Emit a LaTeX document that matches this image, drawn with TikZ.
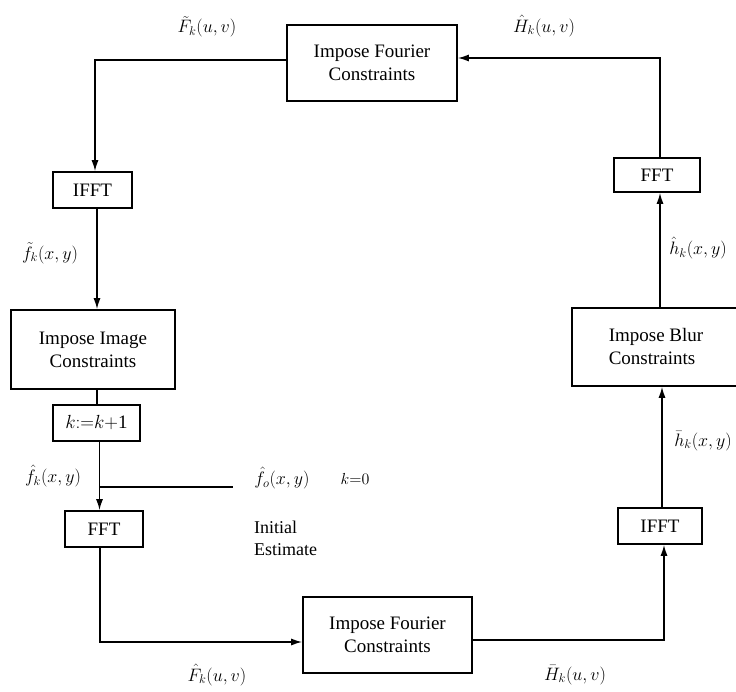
\RequirePackage{fix-cm}
\documentclass[tikz,border=0pt]{standalone}
\usepackage{fontspec}
\setmainfont{Liberation Serif}
\usetikzlibrary{arrows.meta}

\tikzset{
  box/.style={draw, line width=1.6pt, align=center, inner sep=2pt,
    font=\fontsize{19}{23}\selectfont},
  lbl/.style={inner sep=0pt, font=\fontsize{18}{22}\selectfont},
  wire/.style={line width=1.5pt},
  arr/.style={wire, -{Latex[length=11pt,width=7pt]}}
}

\begin{document}
\begin{tikzpicture}[x=1pt,y=-1pt]
\useasboundingbox (0,0) rectangle (736,692);

% processing blocks
\node[box, minimum width=170pt, minimum height=76pt] (ftop)  at (372,63)    {Impose Fourier\\Constraints};
\node[box, minimum width=79pt,  minimum height=36pt] (ifftL) at (92.5,190)  {IFFT};
\node[box, minimum width=164pt, minimum height=79pt] (imgB)  at (93,349.5)  {Impose Image\\Constraints};
\node[box, minimum width=87pt,  minimum height=36pt] (kB)    at (96.5,423)  {$k{:=}k\mathrm{+1}$};
\node[box, minimum width=78pt,  minimum height=36pt] (fftL)  at (104,529)   {FFT};
\node[box, minimum width=169pt, minimum height=76pt] (fbot)  at (387.5,635) {Impose Fourier\\Constraints};
\node[box, minimum width=84pt,  minimum height=36pt] (ifftR) at (660,526)   {IFFT};
\node[box, minimum width=168pt, minimum height=78pt, align=left] (blurB) at (656,347) {Impose Blur\\Constraints};
\node[box, minimum width=86pt,  minimum height=34pt] (fftR)  at (657,175)   {FFT};

% free ends of the initial-estimate feed
\coordinate (jn)   at (99.5,487);
\coordinate (init) at (233,487);

% signal path
\draw[arr]  ([yshift=3pt]ftop.west) -| ([xshift=2.5pt]ifftL.north);
\draw[arr]  ([xshift=4.5pt]ifftL.south) -- ([xshift=4pt]imgB.north);
\draw[wire] ([xshift=4pt]imgB.south) -- ([xshift=0.5pt]kB.north);
\draw[arr]  ([xshift=3pt]kB.south) -- ([xshift=-4.5pt]fftL.north);
\draw[wire] (jn) -- (init);
\draw[arr]  ([xshift=-4pt]fftL.south) |- ([yshift=-7pt]fbot.west);
\draw[arr]  ([yshift=-5pt]fbot.east) -| ([xshift=4pt]ifftR.south);
\draw[arr]  ([xshift=2pt]ifftR.north) -- ([xshift=6pt]blurB.south);
\draw[arr]  ([xshift=4pt]blurB.north) -- ([xshift=3pt]fftR.south);
\draw[arr]  ([xshift=3pt]fftR.north) |- ([yshift=5pt]ftop.east);

% signal labels
\node[lbl] (lFt) at (207,27)  {$\tilde{F}_k(u,v)$};
\node[lbl] (lHh) at (544,26)  {$\hat{H}_k(u,v)$};
\node[lbl] (lft) at (50,253)  {$\tilde{f}_k(x,y)$};
\node[lbl] (lhh) at (698,248) {$\hat{h}_k(x,y)$};
\node[lbl] (lhb) at (703,441) {$\bar{h}_k(x,y)$};
\node[lbl] (lfh) at (53,476)  {$\hat{f}_k(x,y)$};
\node[lbl] (lf0) at (282,478) {$\hat{f}_o(x,y)$};
\node[lbl, font=\fontsize{16}{20}\selectfont] (lk0) at (355,479) {$k{=}0$};
\node[lbl, align=left, anchor=west, font=\fontsize{18}{22}\selectfont] (lie) at (254,538) {Initial\\Estimate};
\node[lbl] (lFh) at (217,675) {$\hat{F}_k(u,v)$};
\node[lbl] (lHb) at (575,675) {$\bar{H}_k(u,v)$};
\end{tikzpicture}
\end{document}
